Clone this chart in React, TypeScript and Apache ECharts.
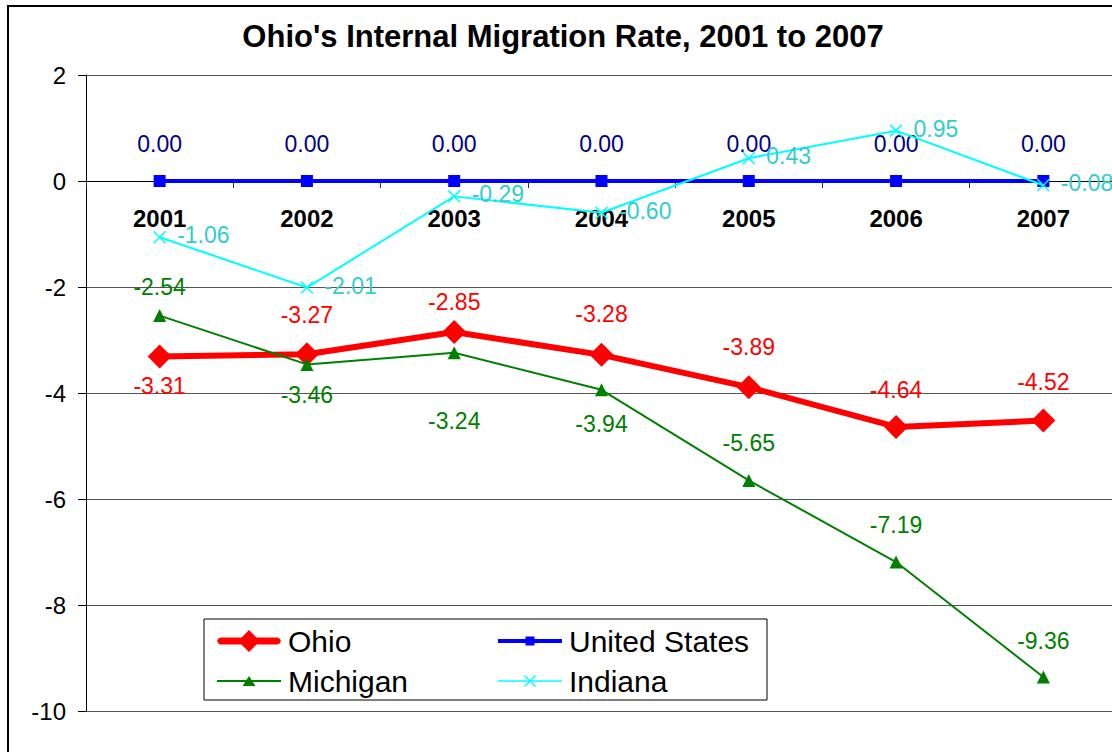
import React, { useEffect, useRef } from "react";
import * as echarts from "echarts";

const years = ["2001", "2002", "2003", "2004", "2005", "2006", "2007"];
const ohio = [-3.31, -3.27, -2.85, -3.28, -3.89, -4.64, -4.52];
const unitedStates = [0, 0, 0, 0, 0, 0, 0];
const michigan = [-2.54, -3.46, -3.24, -3.94, -5.65, -7.19, -9.36];
const indiana = [-1.06, -2.01, -0.29, -0.6, 0.43, 0.95, -0.08];
const yMin = -10;
const yMax = 2;
const yStep = 2;

// label vertical offsets (style)
const ohioLabelDy = [30, -39, -30, -41, -40, -37, -39];
const michiganLabelDy = [-29, 31, 68, 34, -37, -37, -36];

const FONT = "Liberation Sans, Arial, sans-serif";

const ohioIcon =
  "path://M3.5,7.5L60.5,7.5L62.5,8.5L64,11L62.5,13.5L60.5,14.5L3.5,14.5L1.5,13.5L0,11L1.5,8.5ZM32,0L43,11L32,22L21,11Z";
const usIcon =
  "path://M0,0M64,22M0,9L64,9L64,13L0,13ZM27.5,6.5L36.5,6.5L36.5,15.5L27.5,15.5Z";
const miIcon =
  "path://M0,0M64,22M0,10L64,10L64,12L0,12ZM32,6L38.5,16L25.5,16Z";
const inIcon =
  "path://M0,0M64,22M0,10.2L64,10.2L64,11.8L0,11.8ZM26,6L27,5L32,10L37,5L38,6L33,11L38,16L37,17L32,12L27,17L26,16L31,11Z";
const xSymbol =
  "path://M0,8L8,0L50,42L92,0L100,8L58,50L100,92L92,100L50,58L8,100L0,92L42,50Z";

function fmt(p: any) {
  return Number(p.value).toFixed(2);
}

export default function App() {
  const ref = useRef<HTMLDivElement>(null);
  useEffect(() => {
    if (!ref.current) return;
    const chart = echarts.init(ref.current, undefined, { renderer: "svg" });
    const labelBase = { show: true, fontFamily: FONT, fontSize: 23, formatter: fmt };
    const legendText = {
      fontFamily: FONT,
      fontSize: 30,
      lineHeight: 22,
      color: "#000",
      padding: [0, 0, 0, 2],
    };
    chart.setOption({
      animation: false,
      backgroundColor: "#ffffff",
      textStyle: { fontFamily: FONT },
      graphic: [
        {
          type: "rect",
          z: 0,
          shape: { x: 8, y: 6, width: 1200, height: 900 },
          style: { fill: "none", stroke: "#000", lineWidth: 2 },
        },
        {
          type: "text",
          z: 10,
          x: 563,
          y: 36,
          style: {
            text: "Ohio's Internal Migration Rate, 2001 to 2007",
            font: "bold 31px " + FONT,
            fill: "#000",
            textAlign: "center",
            textVerticalAlign: "middle",
          },
        },
        {
          type: "rect",
          z: 20,
          shape: { x: 204, y: 619, width: 563, height: 81 },
          style: { fill: "#fff", stroke: "#000", lineWidth: 1 },
        },
      ],
      legend: [
        {
          z: 30,
          orient: "vertical",
          left: 217,
          top: 626,
          padding: 0,
          itemWidth: 64,
          itemHeight: 22,
          itemGap: 10,
          textStyle: legendText,
          data: [
            { name: "Ohio", icon: ohioIcon },
            { name: "Michigan", icon: miIcon },
          ],
          selectedMode: false,
        },
        {
          z: 30,
          orient: "vertical",
          left: 498,
          top: 626,
          padding: 0,
          itemWidth: 64,
          itemHeight: 22,
          itemGap: 10,
          textStyle: legendText,
          data: [
            { name: "United States", icon: usIcon },
            { name: "Indiana", icon: inIcon },
          ],
          selectedMode: false,
        },
      ],
      grid: {
        left: 86,
        top: 75,
        width: 1031,
        height: 636,
        containLabel: false,
        outerBoundsMode: "none",
      },
      xAxis: {
        type: "category",
        data: years,
        boundaryGap: true,
        position: "bottom",
        offset: -530,
        axisLine: { onZero: false, lineStyle: { color: "#000", width: 1 } },
        axisTick: { show: true, length: 7, lineStyle: { color: "#333" } },
        axisLabel: { fontFamily: FONT, fontSize: 24, fontWeight: "bold", color: "#000", margin: 25 },
        splitLine: { show: false },
      },
      yAxis: {
        type: "value",
        min: yMin,
        max: yMax,
        interval: yStep,
        axisLine: { show: true, lineStyle: { color: "#000", width: 1 } },
        axisTick: { show: true, length: 8, lineStyle: { color: "#000" } },
        axisLabel: { fontFamily: FONT, fontSize: 24, color: "#000", margin: 20 },
        splitLine: { show: true, lineStyle: { color: "#555", width: 1 } },
      },
      series: [
        {
          name: "Ohio",
          type: "line",
          z: 2,
          silent: true,
          symbol: "diamond",
          symbolSize: 24,
          lineStyle: { color: "#FF0000", width: 6 },
          itemStyle: { color: "#FF0000" },
          label: { ...labelBase, color: "#FF0000", position: "inside" },
          data: ohio.map((v, i) => ({ value: v, label: { offset: [0, ohioLabelDy[i]] } })),
        },
        {
          name: "United States",
          type: "line",
          z: 3,
          silent: true,
          symbol: "rect",
          symbolSize: 12,
          lineStyle: { color: "#0000FF", width: 4 },
          itemStyle: { color: "#0000FF" },
          label: { ...labelBase, color: "#000080", position: "inside", offset: [0, -37] },
          data: unitedStates,
        },
        {
          name: "Michigan",
          type: "line",
          z: 4,
          silent: true,
          symbol: "triangle",
          symbolSize: 13,
          lineStyle: { color: "#008000", width: 2 },
          itemStyle: { color: "#008000" },
          label: { ...labelBase, color: "#008000", position: "inside" },
          data: michigan.map((v, i) => ({ value: v, label: { offset: [0, michiganLabelDy[i]] } })),
        },
        {
          name: "Indiana",
          type: "line",
          z: 5,
          silent: true,
          symbol: xSymbol,
          symbolSize: 13,
          lineStyle: { color: "#00FFFF", width: 2 },
          itemStyle: { color: "#00FFFF" },
          label: { ...labelBase, color: "#33CCCC", position: "right", distance: 11, offset: [0, -2] },
          data: indiana,
        },
      ],
    });
    return () => chart.dispose();
  }, []);
  return (
    <div
      ref={ref}
      style={{ position: "absolute", left: 0, top: 0, width: 1112, height: 752, background: "#fff" }}
    />
  );
}
